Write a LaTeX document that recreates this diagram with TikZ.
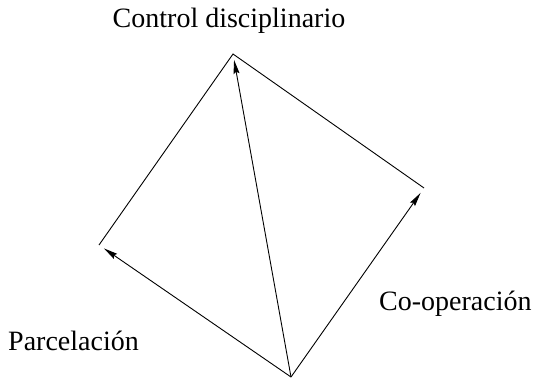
\documentclass[tikz,border=0pt]{standalone}
\usepackage{fontspec}
\setmainfont{Liberation Serif}
\usetikzlibrary{arrows.meta}
\begin{document}
\begin{tikzpicture}[x=1pt,y=-1pt,
  edge/.style={line width=0.9pt,line join=miter},
  arr/.style={edge,-{Stealth[length=14pt,width=6pt,inset=2pt]},shorten >=6pt},
  lbl/.style={inner sep=0pt,font=\fontsize{28}{32}\selectfont}]
\useasboundingbox (0,0) rectangle (537,378);
\coordinate (T) at (233,54);
\coordinate (L) at (99,245);
\coordinate (R) at (424,188);
\coordinate (B) at (291,377);
\draw[edge] (L) -- (T) -- (R);
\draw[arr] (B) -- (L);
\draw[arr] (B) -- (R);
\draw[arr] (B) -- (T);
\node[lbl,anchor=base] (ct) at (229,27) {Control disciplinario};
\node[lbl,anchor=base west] (co) at (379,310) {Co-operación};
\node[lbl,anchor=base west] (pa) at (8,350) {Parcelación};
\end{tikzpicture}
\end{document}
